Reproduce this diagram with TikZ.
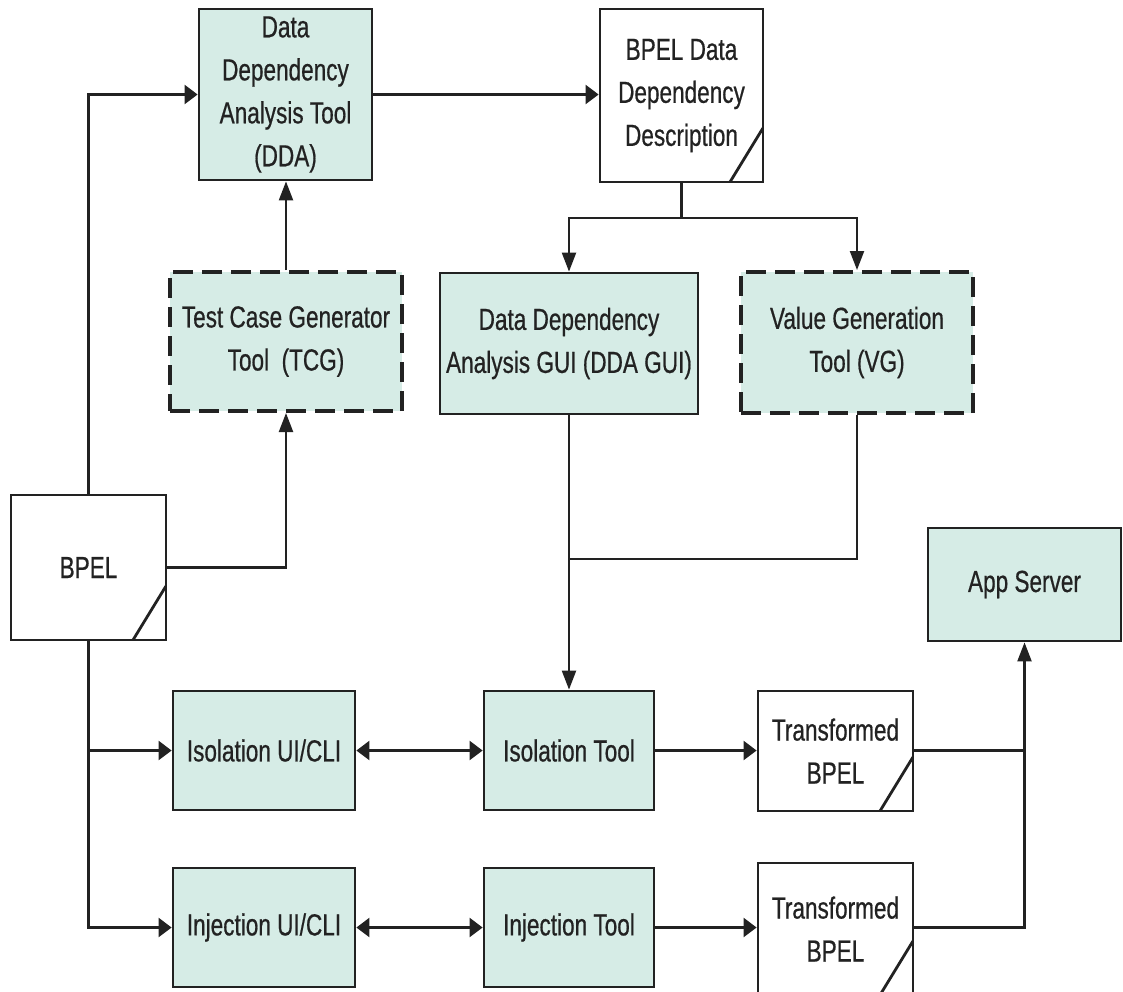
\documentclass[tikz,border=0pt]{standalone}
\usepackage{fontspec}
\setmainfont{Liberation Sans}[FakeStretch=0.74,FakeBold=0.6]
\usetikzlibrary{arrows.meta}
\definecolor{boxfill}{RGB}{214,236,230}
\definecolor{ink}{RGB}{34,34,34}
\tikzset{
  base/.style={rectangle, draw=ink, line width=2.8pt, inner sep=0pt, text=ink,
    align=center, font=\fontsize{30.5}{43}\selectfont},
  toolbox/.style={base, fill=boxfill},
  dashbox/.style={base, fill=boxfill, line width=4pt, dash pattern=on 20pt off 9pt},
  docbox/.style={base, fill=white, path picture={
    \draw[ink, line width=2.8pt] ([xshift=-33pt]path picture bounding box.south east)
      -- ([yshift=54pt]path picture bounding box.south east);}},
  conn/.style={draw=ink, line width=2.2pt},
  harr/.style={conn, -{Triangle[length=13pt,width=19pt]}},
  varr/.style={conn, -{Triangle[length=19pt,width=14pt]}},
  hdbl/.style={conn, {Triangle[length=13pt,width=19pt]}-{Triangle[length=13pt,width=19pt]}},
}
\begin{document}
\begin{tikzpicture}[x=1pt,y=-1pt]
\useasboundingbox (0,0) rectangle (1123,991);
\clip (0,0) rectangle (1123,991);
\fill[white] (0,0) rectangle (1123,991);

\node[toolbox, minimum width=173pt, minimum height=171pt] (dda) at (285.5,94.5)
  {Data\\Dependency\\Analysis Tool\\(DDA)};
\node[docbox, minimum width=163pt, minimum height=173pt] (desc) at (681.5,95.5)
  {BPEL Data\\Dependency\\Description};
\node[dashbox, minimum width=232pt, minimum height=139pt] (tcg) at (286,341.5)
  {Test Case Generator\\Tool\ \ (TCG)};
\node[toolbox, minimum width=258pt, minimum height=141pt] (gui) at (569,343.5)
  {Data Dependency\\Analysis GUI (DDA GUI)};
\node[dashbox, minimum width=232pt, minimum height=141pt] (vg) at (857,342.5)
  {Value Generation\\Tool (VG)};
\node[docbox, minimum width=155pt, minimum height=145pt] (bpel) at (88.5,567.5)
  {BPEL};
\node[toolbox, minimum width=193pt, minimum height=113pt] (app) at (1024.5,584.5)
  {App Server};
\node[toolbox, minimum width=182pt, minimum height=119pt] (isoui) at (264,750.5)
  {Isolation UI/CLI};
\node[toolbox, minimum width=170pt, minimum height=119pt] (isotool) at (569,750.5)
  {Isolation Tool};
\node[docbox, minimum width=155pt, minimum height=120pt] (tb1) at (835.5,751)
  {Transformed\\BPEL};
\node[toolbox, minimum width=182pt, minimum height=119pt] (injui) at (264,927.5)
  {Injection UI/CLI};
\node[toolbox, minimum width=170pt, minimum height=119pt] (injtool) at (569,927.5)
  {Injection Tool};
\node[docbox, minimum width=155pt, minimum height=132pt] (tb2) at (835.5,929)
  {Transformed\\BPEL};

\coordinate (split) at (681.5,218);
\coordinate (join) at (569,559);

% BPEL to DDA and TCG
\draw[harr] (bpel.north) |- (dda.west);
\draw[varr] (bpel.east) -| (tcg.south);
\draw[varr] (tcg.north) -- (tcg.north |- dda.south);
\draw[harr] (dda.east) -- (dda.east -| desc.west);

% description to GUI and VG
\draw[conn] (desc.south) -- (split);
\draw[varr] (split) -| (gui.north);
\draw[varr] (split) -| (vg.north);

% GUI and VG to isolation tool
\draw[conn] (vg.south) |- (join);
\draw[varr] (gui.south) -- (isotool.north);

% BPEL to UI/CLI
\draw[harr] (bpel.south) |- (isoui.west);
\draw[harr] (bpel.south) |- (injui.west);

% UI <-> tools
\draw[hdbl] (isoui.east) -- (isotool.west);
\draw[hdbl] (injui.east) -- (injtool.west);

% tools to transformed BPEL
\draw[harr] (isotool.east) -- (isotool.east -| tb1.west);
\draw[harr] (injtool.east) -- (injtool.east -| tb2.west);

% transformed BPEL to app server
\draw[conn] (isotool.east -| tb1.east) -- (isotool.east -| app.south);
\draw[varr] (injtool.east -| tb2.east) -| (app.south);
\end{tikzpicture}
\end{document}
